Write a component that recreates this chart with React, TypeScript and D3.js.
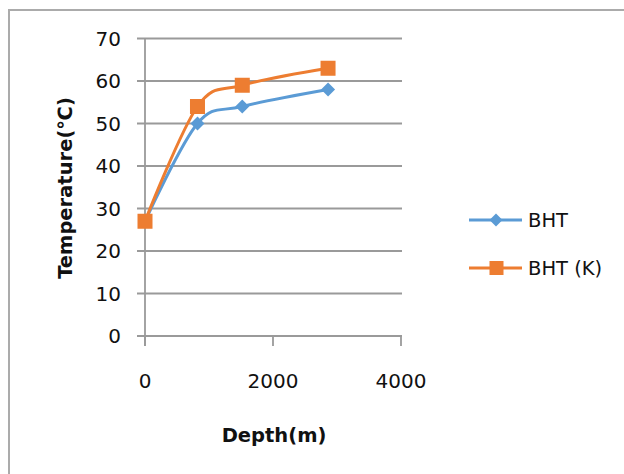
import React from "react";
import * as d3 from "d3";

const depths = [0, 820, 1520, 2860];
const bht = [27, 50, 54, 58];
const bhtK = [27, 54, 59, 63];
const xTicks = [0, 2000, 4000];
const yTicks = [0, 10, 20, 30, 40, 50, 60, 70];
const seriesNames = ["BHT", "BHT (K)"];
const colors = ["#5b9bd5", "#ed7d31"];

const FONT = "'DejaVu Sans', Verdana, sans-serif";

export default function App() {
  const x = d3.scaleLinear().domain([0, 4000]).range([145, 401]);
  const y = d3.scaleLinear().domain([0, 70]).range([336, 38.5]);
  const line = d3
    .line<[number, number]>()
    .x((d) => x(d[0]))
    .y((d) => y(d[1]))
    .curve(d3.curveCatmullRom.alpha(0));
  const series = [bht, bhtK].map((vals) => depths.map((dd, i) => [dd, vals[i]] as [number, number]));
  const grid = "#9a9a9a";
  const diamond = (cx: number, cy: number, r: number) =>
    `M${cx},${cy - r}L${cx + r},${cy}L${cx},${cy + r}L${cx - r},${cy}Z`;
  const legendY = [220, 268];

  return (
    <svg
      width={624}
      height={474}
      style={{ position: "absolute", left: 0, top: 0, background: "#fff" }}
      fontFamily={FONT}
    >
      <rect x={0} y={0} width={624} height={474} fill="#fff" />
      <rect x={9} y={10} width={640} height={500} fill="#fff" stroke="#ababab" strokeWidth={2} />
      {yTicks.map((t) => (
        <line key={"g" + t} x1={137} x2={402} y1={y(t)} y2={y(t)} stroke={grid} strokeWidth={1.8} />
      ))}
      <line x1={145} x2={145} y1={y(70)} y2={346} stroke={grid} strokeWidth={1.8} />
      {xTicks.map((t) => (
        <line key={"xt" + t} x1={x(t)} x2={x(t)} y1={336} y2={346} stroke={grid} strokeWidth={1.8} />
      ))}
      {yTicks.map((t) => (
        <text key={"yl" + t} x={121} y={y(t)} dy="0.36em" textAnchor="end" fontSize={20} fill="#111">
          {t}
        </text>
      ))}
      {xTicks.map((t) => (
        <text key={"xl" + t} x={x(t)} y={388} textAnchor="middle" fontSize={20} fill="#111">
          {t}
        </text>
      ))}
      <text x={274} y={442} textAnchor="middle" fontSize={19.5} fontWeight="bold" fill="#111">
        Depth(m)
      </text>
      <text
        transform="translate(72,188) rotate(-90)"
        textAnchor="middle"
        fontSize={19.5}
        fontWeight="bold"
        fill="#111"
      >
        Temperature(℃)
      </text>
      {series.map((s, i) => (
        <path key={"l" + i} d={line(s) || ""} fill="none" stroke={colors[i]} strokeWidth={3} />
      ))}
      {series[0].map((p, j) => (
        <path key={"d" + j} d={diamond(x(p[0]), y(p[1]), 7)} fill={colors[0]} />
      ))}
      {series[1].map((p, j) => (
        <rect key={"s" + j} x={x(p[0]) - 7.5} y={y(p[1]) - 7.5} width={15} height={15} fill={colors[1]} />
      ))}
      {seriesNames.map((n, i) => (
        <g key={"lg" + i}>
          <line x1={469} x2={522} y1={legendY[i]} y2={legendY[i]} stroke={colors[i]} strokeWidth={3} />
          {i === 0 ? (
            <path d={diamond(496, legendY[i], 6.5)} fill={colors[i]} />
          ) : (
            <rect x={489.5} y={legendY[i] - 7} width={14} height={14} fill={colors[i]} />
          )}
          <text x={528} y={legendY[i]} dy="0.36em" fontSize={19.5} fill="#111">
            {n}
          </text>
        </g>
      ))}
    </svg>
  );
}
